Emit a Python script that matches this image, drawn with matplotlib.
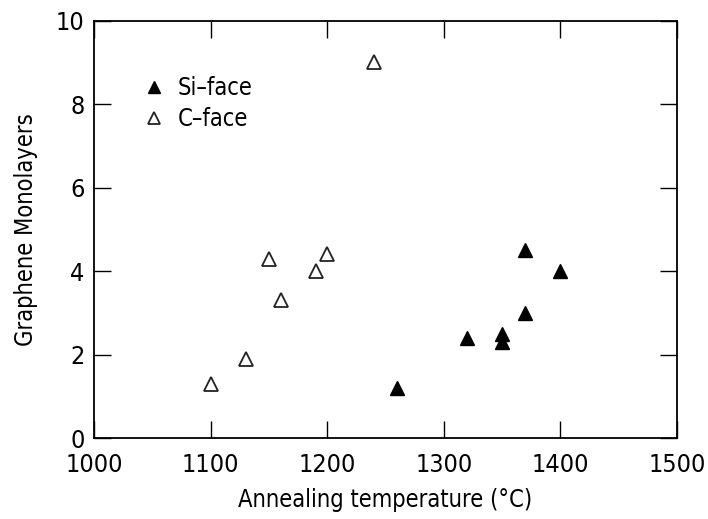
import matplotlib
matplotlib.use('Agg')
import matplotlib.pyplot as plt

plt.rcParams['font.family'] = ['DejaVu Sans']
plt.rcParams['font.stretch'] = 'condensed'

# Si-face samples
si_temp = [1260, 1320, 1350, 1350, 1370, 1370, 1400]
si_layers = [1.2, 2.4, 2.5, 2.3, 4.5, 3.0, 4.0]

# C-face samples
c_temp = [1100, 1130, 1150, 1160, 1190, 1200, 1240]
c_layers = [1.3, 1.9, 4.3, 3.3, 4.0, 4.4, 9.0]

xticks = [1000, 1100, 1200, 1300, 1400, 1500]
yticks = [0, 2, 4, 6, 8, 10]

fig = plt.figure(figsize=(7.08, 5.19), dpi=100)
ax = fig.add_axes([0.133, 0.156, 0.823, 0.804])

ax.plot(si_temp, si_layers, ls='none', marker='^', ms=10, mfc='k', mec='k', label='Si\u2013face')
ax.plot(c_temp, c_layers, ls='none', marker='^', ms=10, mfc='white', mec='#222222', mew=1.3, label='C\u2013face')

ax.set_xlim(1000, 1500)
ax.set_ylim(0, 10)
ax.set_xticks(xticks)
ax.set_yticks(yticks)
ax.tick_params(direction='in', length=12, width=1, top=True, right=True, labelsize=18)
ax.tick_params(axis='x', pad=11)
ax.tick_params(axis='y', pad=7)
for s in ax.spines.values():
    s.set_linewidth(1.3)

ax.set_xlabel('Annealing temperature (\u00b0C)', fontsize=17, labelpad=8)
ax.set_ylabel('Graphene Monolayers', fontsize=17, labelpad=13)

ax.legend(loc='upper left', bbox_to_anchor=(0.05, 0.918), frameon=False, fontsize=17,
          handlelength=0.8, handletextpad=0.6, labelspacing=0.3, markerscale=0.85)

plt.savefig('out.png', dpi=100)
